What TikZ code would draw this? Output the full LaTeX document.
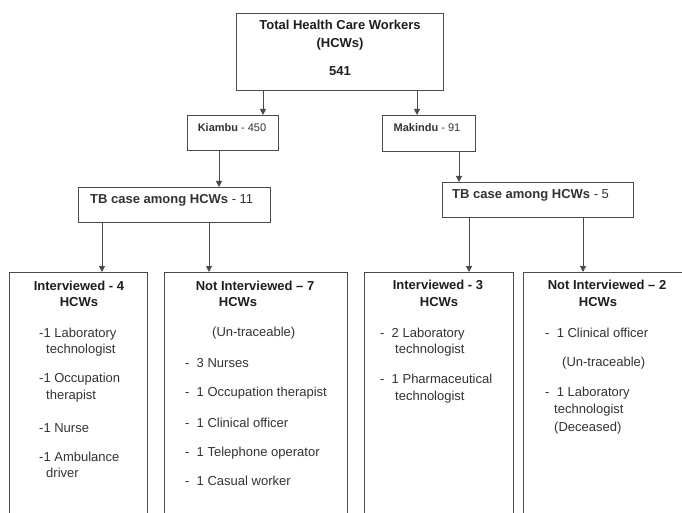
\documentclass[tikz,border=0pt]{standalone}
\usepackage{fontspec}
\setmainfont{Liberation Sans}
\usetikzlibrary{arrows.meta}
\definecolor{linec}{HTML}{4A4A4A}
\definecolor{txtc}{HTML}{333333}
\definecolor{boldc}{HTML}{1E1E1E}
\begin{document}
\begin{tikzpicture}[x=1pt,y=-1pt,
  box/.style={draw=linec, line width=1.4pt, rectangle, anchor=north west, inner sep=0pt},
  arr/.style={draw=linec, line width=1pt, -{Triangle[length=6pt,width=6pt]}},
  txt/.style={inner sep=0pt, text=txtc, font=\fontsize{13}{15}\selectfont, anchor=base},
  txtl/.style={txt, anchor=base west},
  btxt/.style={txt, text=boldc, font=\fontsize{13}{15}\selectfont\bfseries},
  stxt/.style={inner sep=0pt, text=txtc, font=\fontsize{11}{13}\selectfont, anchor=base},
]
\useasboundingbox (0,0) rectangle (682,513);
\clip (0,0) rectangle (682,513);
\fill[white] (0,0) rectangle (682,513);

% boxes
\node[box, minimum width=207, minimum height=77] (top) at (236,13) {};
\node[box, minimum width=91, minimum height=35] (kia) at (187,115) {};
\node[box, minimum width=93, minimum height=36] (mak) at (382,115) {};
\node[box, minimum width=192, minimum height=35] (tbk) at (78,187) {};
\node[box, minimum width=191, minimum height=35] (tbm) at (442,182) {};
\node[box, minimum width=138, minimum height=260] (b1) at (9,272) {};
\node[box, minimum width=183, minimum height=260] (b2) at (164,272) {};
\node[box, minimum width=149, minimum height=260] (b3) at (364,272) {};
\node[box, minimum width=169, minimum height=260] (b4) at (523,272) {};

% connector columns
\coordinate (a1) at (263,0);
\coordinate (a2) at (417,0);
\coordinate (a3) at (219,0);
\coordinate (a4) at (459,0);
\coordinate (a5) at (102,0);
\coordinate (a6) at (209,0);
\coordinate (a7) at (469,0);
\coordinate (a8) at (583,0);
\draw[arr] (top.south -| a1) -- (kia.north -| a1);
\draw[arr] (top.south -| a2) -- (mak.north -| a2);
\draw[arr] (kia.south -| a3) -- (tbk.north -| a3);
\draw[arr] (mak.south -| a4) -- (tbm.north -| a4);
\draw[arr] (tbk.south -| a5) -- (b1.north -| a5);
\draw[arr] (tbk.south -| a6) -- (b2.north -| a6);
\draw[arr] (tbm.south -| a7) -- (b3.north -| a7);
\draw[arr] (tbm.south -| a8) -- (b4.north -| a8);

% top
\node[btxt] (t1) at (340,30) {Total Health Care Workers};
\node[btxt] (t2) at (340,48) {(HCWs)};
\node[btxt] (t3) at (340,76) {541};
\node[stxt] (k1) at (232,132) {\textbf{Kiambu} - 450};
\node[stxt] (m1) at (427,132) {\textbf{Makindu} - 91};
\node[txtl] (tk) at (90,203) {\textbf{TB case among HCWs} - 11};
\node[txtl] (tm) at (452,198) {\textbf{TB case among HCWs} - 5};

% box 1
\node[btxt] (h1a) at (79,290) {Interviewed - 4};
\node[btxt] (h1b) at (79,306) {HCWs};
\node[txtl] (i11) at (39,337) {-1 Laboratory};
\node[txtl] (i12) at (46,353) {technologist};
\node[txtl] (i13) at (39,382) {-1 Occupation};
\node[txtl] (i14) at (46,399) {therapist};
\node[txtl] (i15) at (39,432) {-1 Nurse};
\node[txtl] (i16) at (39,461) {-1 Ambulance};
\node[txtl] (i17) at (46,477) {driver};

% box 2
\node[btxt] (h2a) at (255,290) {Not Interviewed – 7};
\node[btxt] (h2b) at (238,306) {HCWs};
\node[txtl] (i21) at (212,336) {(Un-traceable)};
\node[txtl] (i22) at (185,367) {- \ 3 Nurses};
\node[txtl] (i23) at (185,396) {- \ 1 Occupation therapist};
\node[txtl] (i24) at (185,427) {- \ 1 Clinical officer};
\node[txtl] (i25) at (185,456) {- \ 1 Telephone operator};
\node[txtl] (i26) at (185,485) {- \ 1 Casual worker};

% box 3
\node[btxt] (h3a) at (438,289) {Interviewed - 3};
\node[btxt] (h3b) at (439,306) {HCWs};
\node[txtl] (i31) at (380,337) {- \ 2 Laboratory};
\node[txtl] (i32) at (395,353) {technologist};
\node[txtl] (i33) at (380,383) {- \ 1 Pharmaceutical};
\node[txtl] (i34) at (395,400) {technologist};

% box 4
\node[btxt] (h4a) at (607,289) {Not Interviewed – 2};
\node[btxt] (h4b) at (598,306) {HCWs};
\node[txtl] (i41) at (545,337) {- \ 1 Clinical officer};
\node[txtl] (i42) at (562,366) {(Un-traceable)};
\node[txtl] (i43) at (545,396) {- \ 1 Laboratory};
\node[txtl] (i44) at (554,413) {technologist};
\node[txtl] (i45) at (554,431) {(Deceased)};
\end{tikzpicture}
\end{document}
